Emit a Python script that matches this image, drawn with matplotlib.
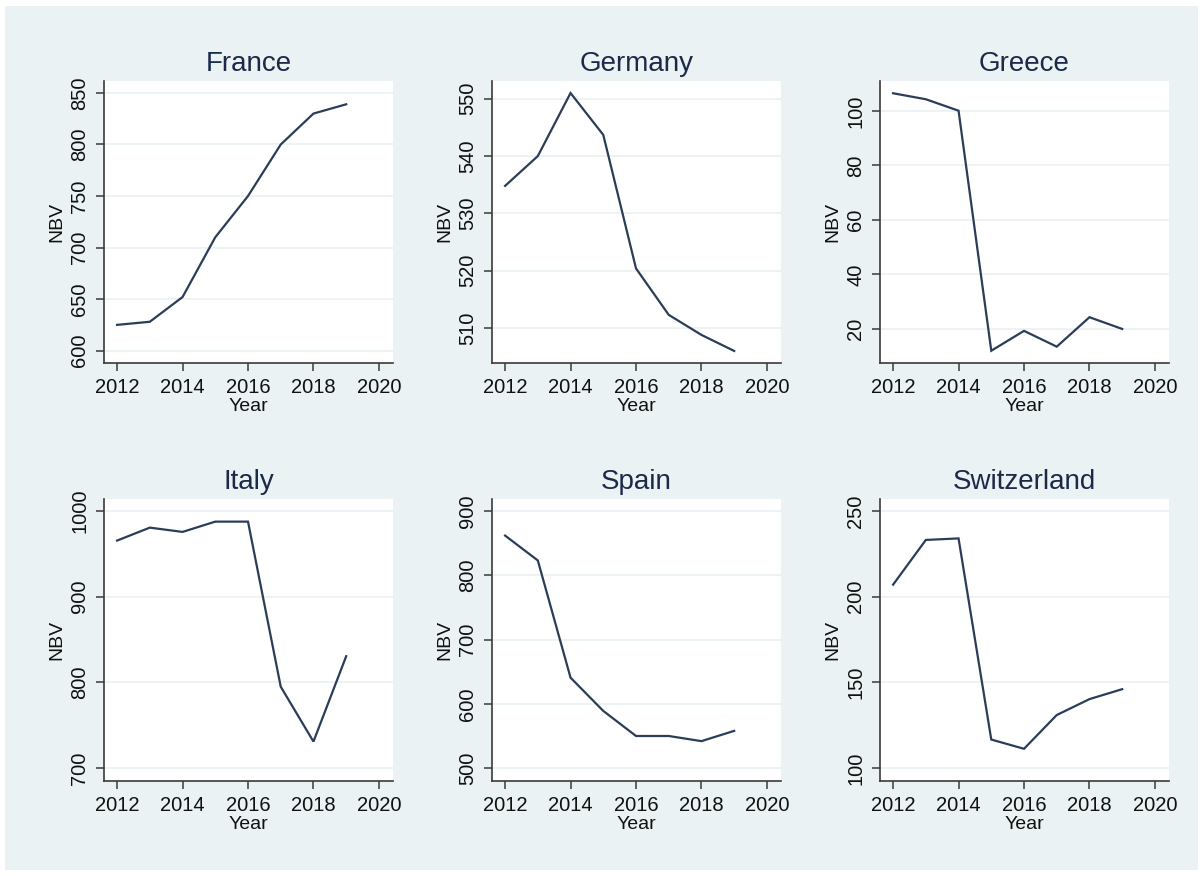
import matplotlib
matplotlib.use("Agg")
import matplotlib.pyplot as plt
from matplotlib.patches import Rectangle

plt.rcParams["font.family"] = ["Liberation Sans", "DejaVu Sans"]

years = [2012, 2013, 2014, 2015, 2016, 2017, 2018, 2019]

france = [625, 628, 652, 710, 750, 800, 830, 839]
germany = [534.8, 540.0, 551.0, 543.7, 520.4, 512.3, 508.8, 506.0]
greece = [106.5, 104.3, 100.1, 12.0, 19.3, 13.5, 24.3, 20.0]
italy = [965.5, 980.6, 975.6, 987.6, 987.6, 795.0, 731.0, 830.6]
spain = [861.7, 823.0, 640.7, 589.0, 550.0, 550.0, 542.0, 558.0]
switzerland = [207.0, 233.1, 234.0, 116.6, 111.2, 130.9, 140.2, 146.0]

countries = ["France", "Germany", "Greece", "Italy", "Spain", "Switzerland"]
series = [france, germany, greece, italy, spain, switzerland]
yticks = [
    [600, 650, 700, 750, 800, 850],
    [510, 520, 530, 540, 550],
    [20, 40, 60, 80, 100],
    [700, 800, 900, 1000],
    [500, 600, 700, 800, 900],
    [100, 150, 200, 250],
]
ylims = [
    (588, 861.6),
    (503.9, 553.1),
    (7.5, 111.0),
    (685, 1014),
    (480, 918.6),
    (92.4, 257),
]
xticks = [2012, 2014, 2016, 2018, 2020]

BG = "#eaf2f3"
LINE = "#2b3d57"
TITLE = "#1c2a4a"
AXIS = "#3a3a3a"

W, H = 1203, 876
fig = plt.figure(figsize=(W / 100, H / 100), dpi=100, facecolor="white")
fig.patches.append(Rectangle((5 / W, 6 / H), 1193 / W, 864 / H,
                             transform=fig.transFigure, facecolor=BG,
                             edgecolor="none", zorder=-10))

lefts = [104, 492, 880]
tops = [81, 499]
pw, ph = 289, 282

for i, (name, vals) in enumerate(zip(countries, series)):
    r, c = divmod(i, 3)
    x0 = lefts[c]
    y1 = tops[r] + ph
    ax = fig.add_axes([x0 / W, 1 - y1 / H, pw / W, ph / H])
    ax.set_facecolor("white")
    ax.plot(years, vals, color=LINE, lw=1.6, solid_joinstyle="miter")
    ax.set_xlim(2011.6, 2020.43)
    ax.set_ylim(*ylims[i])
    ax.set_xticks(xticks)
    ax.set_yticks(yticks[i])
    ax.grid(axis="y", color="#eaf0f2", lw=1.2)
    ax.set_axisbelow(True)
    for s in ("top", "right"):
        ax.spines[s].set_visible(False)
    for s in ("left", "bottom"):
        ax.spines[s].set_color(AXIS)
        ax.spines[s].set_linewidth(1.2)
    ax.tick_params(axis="both", direction="out", length=5.5, width=1.1,
                   color=AXIS, labelsize=14.5, labelcolor="#111111", pad=5)
    for lab in ax.get_yticklabels():
        lab.set_rotation(90)
        lab.set_va("center")
    ax.set_ylabel("NBV", fontsize=14, color="#111111")
    ax.yaxis.set_label_coords(-0.135, 0.5)
    ax.set_xlabel("Year", fontsize=14, color="#111111")
    ax.xaxis.set_label_coords(0.5, -0.125)
    ax.annotate(name, xy=(0.5, 1.0), xycoords="axes fraction",
                xytext=(0, 7.5), textcoords="offset points",
                ha="center", va="baseline", fontsize=20, color=TITLE)

fig.savefig("out.png", dpi=100, facecolor="white")
